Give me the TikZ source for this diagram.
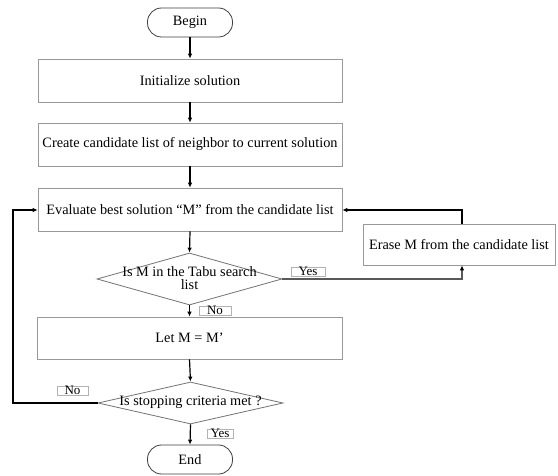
\documentclass[tikz,border=0pt]{standalone}
\usepackage{fontspec}
\setmainfont{Liberation Serif}
\usetikzlibrary{arrows.meta,shapes.geometric}
\begin{document}
\begin{tikzpicture}[x=1pt,y=-1pt,
  box/.style={draw=black!40, line width=0.7pt, minimum width=#1, minimum height=43, inner sep=0, font=\fontsize{14.3}{16}\selectfont},
  term/.style={draw=black!75, line width=0.8pt, rounded corners=14pt, minimum width=85, minimum height=29, inner sep=0, font=\fontsize{14.3}{16}\selectfont},
  dia/.style={draw=black!55, line width=0.8pt, shape=diamond, inner sep=0, minimum width=#1},
  txt/.style={inner sep=0, align=center, font=\fontsize{14.3}{13}\selectfont},
  lbl/.style={draw=black!30, line width=0.6pt, minimum width=#1, inner xsep=0pt, inner ysep=0pt, text height=8.5pt, text depth=0.5pt, font=\fontsize{13}{13}\selectfont},
  conn/.style={line width=1.2pt, -{Latex[length=5pt,width=4.5pt]}},
  gconn/.style={line width=1.6pt, draw=black!65, -{Latex[length=5pt,width=4.5pt,fill=black,color=black]}}
]
\useasboundingbox[fill=white] (0,0) rectangle (558,476);

\node[term] (begin) at (190,22.5) {Begin};
\node[box=304] (init) at (190,80.5) {Initialize solution};
\node[box=304] (create) at (190,144.5) {Create candidate list of neighbor to current solution};
\node[box=304] (eval) at (190,209.5) {Evaluate best solution ``M'' from the candidate list};
\node[box=192, minimum height=41] (erase) at (459,244.5) {Erase M from the candidate list};
\node[dia=185, minimum height=52] (d1) at (189.5,279) {};
\node[txt] (d1t) at (189.5,278.5) {Is M in the Tabu search\\list};
\node[box=305, minimum height=42] (letm) at (189.5,338) {Let M = M'};
\node[dia=185, minimum height=42] (d2) at (190.5,403) {};
\node[txt] (d2t) at (190.5,402.5) {Is stopping criteria met ?};
\node[term] (end) at (190,459.5) {End};

\node[lbl=34] (yes1) at (308,272) {Yes};
\node[lbl=32] (no1) at (215,310.5) {No};
\node[lbl=31] (no2) at (72.5,391) {No};
\node[lbl=26] (yes2) at (220,433.5) {Yes};

\coordinate (c1) at (462,279);
\coordinate (c2) at (462,210);
\coordinate (c3) at (13,403);
\coordinate (c4) at (13,210);

\draw[conn] (begin.south) -- (init.north);
\draw[conn] (init.south) -- (create.north);
\draw[conn] (create.south) -- (eval.north);
\draw[conn] (eval.south) -- (d1.north);
\draw[conn] (d1.south) -- (letm.north);
\draw[conn] (letm.south) -- (d2.north);
\draw[conn] (d2.south) -- (end.north);
\draw[gconn] (d1.east) -- (c1) -- (erase.south -| c1);
\draw[conn] (erase.north -| c2) -- (c2) -- (eval.east |- c2);
\draw[conn] (d2.west) -- (c3) -- (c4) -- (eval.west |- c4);
\end{tikzpicture}
\end{document}
